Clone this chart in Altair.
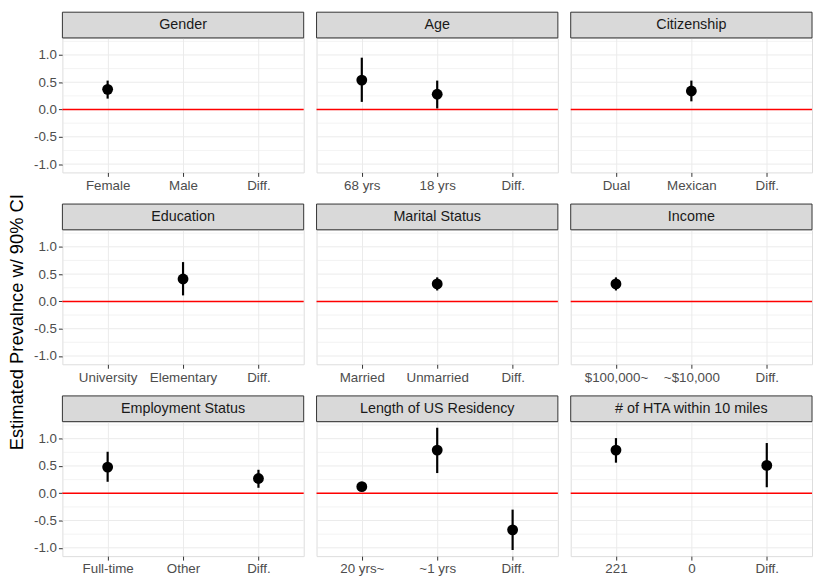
import altair as alt
import pandas as pd

GROUPS = ["Gender", "Age", "Citizenship",
          "Education", "Marital Status", "Income",
          "Employment Status", "Length of US Residency", "# of HTA within 10 miles"]
CATS = [["Female", "Male", "Diff."],
        ["68 yrs", "18 yrs", "Diff."],
        ["Dual", "Mexican", "Diff."],
        ["University", "Elementary", "Diff."],
        ["Married", "Unmarried", "Diff."],
        ["$100,000~", "~$10,000", "Diff."],
        ["Full-time", "Other", "Diff."],
        ["20 yrs~", "~1 yrs", "Diff."],
        ["221", "0", "Diff."]]
EST = [[0.37, None, None],
       [0.54, 0.28, None],
       [None, 0.34, None],
       [None, 0.41, None],
       [None, 0.32, None],
       [0.32, None, None],
       [0.48, None, 0.27],
       [0.12, 0.79, -0.67],
       [0.79, None, 0.51]]
LO = [[0.20, None, None],
      [0.14, 0.02, None],
      [None, 0.15, None],
      [None, 0.11, None],
      [None, 0.20, None],
      [0.20, None, None],
      [0.21, None, 0.10],
      [0.06, 0.37, -1.04],
      [0.56, None, 0.11]]
HI = [[0.53, None, None],
      [0.95, 0.53, None],
      [None, 0.53, None],
      [None, 0.72, None],
      [None, 0.44, None],
      [0.44, None, None],
      [0.76, None, 0.43],
      [0.18, 1.20, -0.30],
      [1.01, None, 0.92]]
MAJOR = [-1.0, -0.5, 0.0, 0.5, 1.0]
MINOR = [-0.75, -0.25, 0.25, 0.75, 1.25]
ZERO = [0.0]
Y_TITLE = "Estimated Prevalnce w/ 90% CI"

FONT = "Liberation Sans"
W, H, S = 244, 136, 26
ROW_GAP = 11
COL_GAP = 9
TOTAL_H = 3 * (S + H + 19) + 2 * ROW_GAP

lo_all = [v for r in LO for v in r if v is not None]
hi_all = [v for r in HI for v in r if v is not None]
rng = max(hi_all) - min(lo_all)
YDOM = [min(lo_all) - 0.05 * rng, max(hi_all) + 0.05 * rng]


def panel(i, show_y):
    rows = [dict(cat=c, est=e, lo=l, hi=h)
            for c, e, l, h in zip(CATS[i], EST[i], LO[i], HI[i]) if e is not None]
    df = pd.DataFrame(rows)
    yscale = alt.Scale(domain=YDOM, nice=False, zero=False)
    if show_y:
        yaxis = alt.Axis(title=None, grid=False, domain=False, values=MAJOR,
                         labelExpr="replace(format(datum.value, '.1f'), '\u2212', '-')",
                         tickSize=4, tickColor="#333333", tickWidth=1,
                         labelColor="#4D4D4D", labelFontSize=13.5, labelPadding=2,
                         labelFont=FONT)
    else:
        yaxis = None
    xenc = alt.X("cat:N",
                 scale=alt.Scale(type="point", domain=CATS[i], padding=0.6),
                 axis=alt.Axis(title=None, grid=True, gridColor="#EBEBEB", gridWidth=1,
                               domain=False, tickSize=4, tickColor="#333333", tickWidth=1,
                               labelColor="#4D4D4D", labelFontSize=13.5, labelPadding=2,
                               labelAngle=0, labelFont=FONT))

    minor = alt.Chart(pd.DataFrame({"v": MINOR})).mark_rule(
        color="#EBEBEB", strokeWidth=0.6).encode(
        y=alt.Y("v:Q", scale=yscale, axis=yaxis))
    major = alt.Chart(pd.DataFrame({"v": MAJOR})).mark_rule(
        color="#EBEBEB", strokeWidth=1).encode(
        y=alt.Y("v:Q", scale=yscale, axis=yaxis))
    zero = alt.Chart(pd.DataFrame({"v": ZERO})).mark_rule(
        color="#FF0000", strokeWidth=1.5).encode(
        y=alt.Y("v:Q", scale=yscale, axis=yaxis))
    err = alt.Chart(df).mark_rule(color="black", strokeWidth=2.2).encode(
        x=xenc, y=alt.Y("lo:Q", scale=yscale, axis=yaxis), y2="hi:Q")
    pts = alt.Chart(df).mark_circle(color="black", opacity=1, size=120).encode(
        x=xenc, y=alt.Y("est:Q", scale=yscale, axis=yaxis))
    sdf = pd.DataFrame({"t": [GROUPS[i]]})
    strip = alt.Chart(sdf).mark_rect(fill="#D9D9D9", stroke="#333333", strokeWidth=1).encode(
        x=alt.value(0), x2=alt.value(W), y=alt.value(-S), y2=alt.value(0))
    stext = alt.Chart(sdf).mark_text(font=FONT, fontSize=14.5, color="#1A1A1A",
                                     baseline="middle", align="center").encode(
        text="t:N", x=alt.value(W / 2), y=alt.value(-S / 2))
    return alt.layer(minor, major, zero, err, pts, strip, stext).properties(width=W, height=H)


rows = []
for r in range(3):
    row = alt.hconcat(*[panel(3 * r + c, c == 0) for c in range(3)], spacing=COL_GAP)
    row = row.resolve_scale(x="independent", y="independent")
    rows.append(row)

grid = alt.vconcat(*rows, spacing=ROW_GAP).resolve_scale(x="independent", y="independent")

ytitle = alt.Chart(pd.DataFrame({"t": [Y_TITLE]})).mark_text(
    font=FONT, fontSize=18.5, color="black", angle=270,
    baseline="middle", align="center").encode(
    text="t:N", x=alt.value(9.5), y=alt.value(TOTAL_H / 2 + 5)
).properties(width=19, height=TOTAL_H - 10,
             view=alt.ViewBackground(strokeOpacity=0, fillOpacity=0))

chart = alt.hconcat(ytitle, grid, spacing=6).resolve_scale(
    x="independent", y="independent").properties(
    padding=0
).configure_view(stroke="#333333", strokeWidth=1).configure(font=FONT, padding=0)

chart.save("out.html", embed_options={"renderer": "svg", "actions": False})
